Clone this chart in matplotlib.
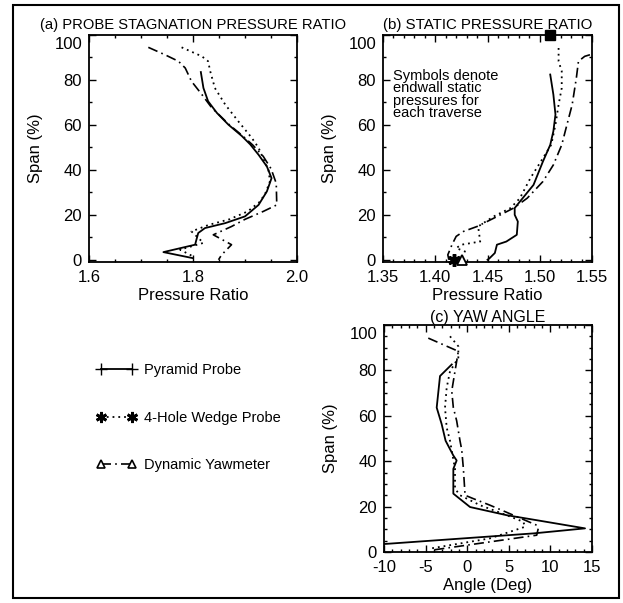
import numpy as np
import matplotlib
matplotlib.use('Agg')
import matplotlib.pyplot as plt
import matplotlib.transforms as mtransforms
from matplotlib.lines import Line2D
from matplotlib.patches import Rectangle
from matplotlib.ticker import MultipleLocator

plt.rcParams['font.family'] = ['Liberation Sans', 'DejaVu Sans']
plt.rcParams['axes.unicode_minus'] = False

# (a) probe stagnation pressure ratio
pyr_a_x = [1.815, 1.820, 1.829, 1.846, 1.868, 1.894, 1.910, 1.926, 1.942, 1.951, 1.942,
           1.926, 1.900, 1.862, 1.823, 1.810, 1.806, 1.804, 1.743, 1.800]
pyr_a_y = [83.5, 76.4, 70.5, 65.3, 60.1, 55.0, 51.3, 46.7, 41.5, 36.3, 30.4,
           24.4, 19.3, 16.3, 14.1, 11.9, 8.5, 6.7, 3.4, 0.7]
wdg_a_x = [1.778, 1.817, 1.829, 1.833, 1.842, 1.862, 1.887, 1.913, 1.926, 1.935, 1.945,
           1.948, 1.940, 1.929, 1.905, 1.870, 1.830, 1.797, 1.820, 1.775, 1.800]
wdg_a_y = [94.5, 90.5, 88.3, 83.9, 76.4, 69.0, 61.6, 54.2, 49.8, 45.0, 40.0,
           35.0, 30.0, 25.9, 21.5, 18.0, 15.5, 12.6, 7.5, 4.5, 1.5]
yaw_a_x = [1.714, 1.746, 1.772, 1.785, 1.797, 1.817, 1.836, 1.850, 1.870, 1.896, 1.915,
           1.935, 1.950, 1.960, 1.961, 1.935, 1.900, 1.874, 1.839, 1.874, 1.855, 1.849]
yaw_a_y = [94.5, 91.2, 88.3, 85.3, 79.4, 73.5, 67.6, 64.5, 60.0, 55.0, 51.0,
           46.0, 40.5, 34.0, 24.4, 21.5, 18.0, 14.8, 11.1, 6.7, 2.2, 0.0]

# (b) static pressure ratio
pyr_b_x = [1.510, 1.513, 1.515, 1.513, 1.510, 1.503, 1.494, 1.481, 1.476, 1.476, 1.479,
           1.478, 1.468, 1.459, 1.457, 1.452, 1.450]
pyr_b_y = [82.4, 73.5, 64.6, 57.2, 51.1, 43.7, 33.3, 25.9, 23.0, 20.0, 17.0,
           11.1, 8.1, 6.7, 3.0, 0.7, 0.0]
wdg_b_x = [1.518, 1.518, 1.521, 1.521, 1.518, 1.515, 1.511, 1.503, 1.491, 1.481, 1.472,
           1.456, 1.441, 1.443, 1.425, 1.420, 1.432]
wdg_b_y = [94.2, 88.3, 83.9, 76.4, 69.0, 60.1, 51.2, 45.2, 36.3, 27.4, 23.0,
           19.3, 14.8, 8.1, 6.7, 5.2, 3.0]
yaw_b_x = [1.548, 1.543, 1.537, 1.535, 1.531, 1.526, 1.521, 1.513, 1.503, 1.488, 1.475,
           1.456, 1.440, 1.427, 1.420, 1.416, 1.412, 1.413]
yaw_b_y = [91.2, 90.5, 88.3, 80.9, 69.0, 60.1, 51.1, 42.2, 34.8, 27.4, 23.0,
           18.5, 14.8, 12.6, 10.4, 6.7, 2.2, 0.0]
# endwall static pressures
wall_top = (1.510, 100)
wall_wdg = (1.418, 0)
wall_yaw = (1.426, 0)

# (c) yaw angle
pyr_c_x = [-1.86, -3.27, -3.67, -3.07, -2.6, -1.67, -1.27, -1.67, -1.67, 0.34, 4.75,
           8.35, 14.16, 8.0, -10.0]
pyr_c_y = [82.6, 77.5, 63.6, 56.3, 49.0, 42.5, 40.3, 36.6, 25.7, 19.8, 16.2,
           14.0, 10.4, 8.2, 3.5]
wdg_c_x = [-2.07, -1.07, -1.07, -2.07, -2.47, -2.67, -2.47, -2.07, -1.47, -1.47, -0.87,
           1.54, 4.75, 6.74, 6.95, 2.74, -4.47]
wdg_c_y = [95.0, 90.6, 85.5, 79.6, 72.3, 63.6, 54.8, 49.0, 36.6, 27.9, 25.0,
           20.6, 16.2, 13.3, 11.1, 6.0, 1.5]
yaw_c_x = [-4.68, -1.07, -1.47, -1.86, -1.67, -1.27, -0.87, -0.66, -0.46, -0.26, 0.73,
           2.74, 5.55, 8.35, 8.55, 8.35, -4.06]
yaw_c_y = [94.2, 88.4, 79.6, 70.9, 63.6, 57.8, 49.0, 45.0, 36.6, 25.0, 23.5,
           20.6, 16.2, 11.8, 10.6, 7.4, 0.9]

labels = ['Pyramid Probe', '4-Hole Wedge Probe', 'Dynamic Yawmeter']

solid = dict(color='k', lw=1.3, ls='-')
dotted = dict(color='k', lw=1.3, ls=(0, (1, 2.2)))
dashdot = dict(color='k', lw=1.2, ls=(0, (6, 2.5, 1, 2.5)))

fig = plt.figure(figsize=(6.23, 6.03), dpi=100)
ax_a = fig.add_axes([0.1429, 0.5655, 0.3339, 0.3765])
ax_b = fig.add_axes([0.6148, 0.5655, 0.3355, 0.3765])
ax_c = fig.add_axes([0.6164, 0.0846, 0.3339, 0.3765])


def style(ax, xmaj, xmin, ymin):
    ax.xaxis.set_major_locator(MultipleLocator(xmaj))
    ax.xaxis.set_minor_locator(MultipleLocator(xmin))
    ax.yaxis.set_major_locator(MultipleLocator(20))
    ax.yaxis.set_minor_locator(MultipleLocator(ymin))
    ax.tick_params(which='both', direction='in', top=True, right=True, width=1.0)
    ax.tick_params(which='major', length=5, labelsize=12)
    ax.tick_params(axis='x', which='major', pad=6)
    ax.tick_params(axis='y', which='major', pad=5)
    ax.tick_params(which='minor', length=2.5)
    for s in ax.spines.values():
        s.set_linewidth(1.3)
    ax.set_ylabel('Span (%)', fontsize=12, labelpad=8)


def drop_top_label(ax):
    # the top "100" label sits a little below its tick in the original
    fig.canvas.draw()
    off = mtransforms.ScaledTranslation(0, -6 / 72, fig.dpi_scale_trans)
    for t in ax.yaxis.get_major_ticks():
        if abs(t.get_loc() - 100) < 1e-6:
            t.label1.set_transform(t.label1.get_transform() + off)


# panel (a)
ax_a.plot(pyr_a_x, pyr_a_y, **solid)
ax_a.plot(wdg_a_x, wdg_a_y, **dotted)
ax_a.plot(yaw_a_x, yaw_a_y, **dashdot)
ax_a.set_xlim(1.6, 2.0)
ax_a.set_ylim(-1, 100)
style(ax_a, 0.2, 0.05, 10)
ax_a.set_xticks([1.6, 1.8, 2.0])
ax_a.set_xticklabels(['1.6', '1.8', '2.0'])
ax_a.set_xlabel('Pressure Ratio', fontsize=12, labelpad=2)
ax_a.set_title('(a) PROBE STAGNATION PRESSURE RATIO', fontsize=10.6, pad=4)

# panel (b)
ax_b.plot(pyr_b_x, pyr_b_y, **solid)
ax_b.plot(wdg_b_x, wdg_b_y, **dotted)
ax_b.plot(yaw_b_x, yaw_b_y, **dashdot)
ax_b.plot(*wall_top, marker='s', color='k', ms=7, clip_on=False, zorder=5)
ax_b.plot(*wall_wdg, marker=(6, 2, 0), color='k', ms=9, mew=2.5, clip_on=False, zorder=5)
ax_b.plot(*wall_yaw, marker='^', mfc='white', mec='k', ms=7, mew=1.3, clip_on=False, zorder=5)
ax_b.set_xlim(1.35, 1.55)
ax_b.set_ylim(-1, 100)
style(ax_b, 0.05, 0.01, 10)
ax_b.set_xticks([1.35, 1.40, 1.45, 1.50, 1.55])
ax_b.set_xticklabels(['1.35', '1.40', '1.45', '1.50', '1.55'])
ax_b.set_xlabel('Pressure Ratio', fontsize=12, labelpad=2)
ax_b.set_title('(b) STATIC PRESSURE RATIO', fontsize=10.8, pad=4)
ax_b.text(0.05, 0.85, 'Symbols denote\nendwall static\npressures for\neach traverse',
          transform=ax_b.transAxes, fontsize=10.5, va='top', ha='left', linespacing=0.85)

# panel (c)
ax_c.plot(pyr_c_x, pyr_c_y, **solid)
ax_c.plot(wdg_c_x, wdg_c_y, **dotted)
ax_c.plot(yaw_c_x, yaw_c_y, **dashdot)
ax_c.set_xlim(-10, 15)
ax_c.set_ylim(0, 100)
style(ax_c, 5, 1, 5)
ax_c.set_xlabel('Angle (Deg)', fontsize=12, labelpad=2)
ax_c.set_title('(c) YAW ANGLE', fontsize=11.5, pad=2)

# legend
handles = [
    Line2D([], [], marker='+', ms=8, mew=1.0, **solid),
    Line2D([], [], marker=(6, 2, 0), ms=8, mew=2.0, **dotted),
    Line2D([], [], marker='^', mfc='white', mec='k', ms=6, mew=1.2, **dashdot),
]
fig.legend(handles, labels, loc='center left', bbox_to_anchor=(0.144, 0.307),
           numpoints=2, frameon=False, fontsize=10.5, handlelength=2.7,
           handletextpad=0.5, labelspacing=2.3, borderpad=0)

# figure border
fig.add_artist(Rectangle((0.021, 0.0083), 0.9726, 0.9834, transform=fig.transFigure,
                         fill=False, lw=1.5, ec='k'))

for ax in (ax_a, ax_b, ax_c):
    drop_top_label(ax)

fig.savefig('out.png', dpi=100)
